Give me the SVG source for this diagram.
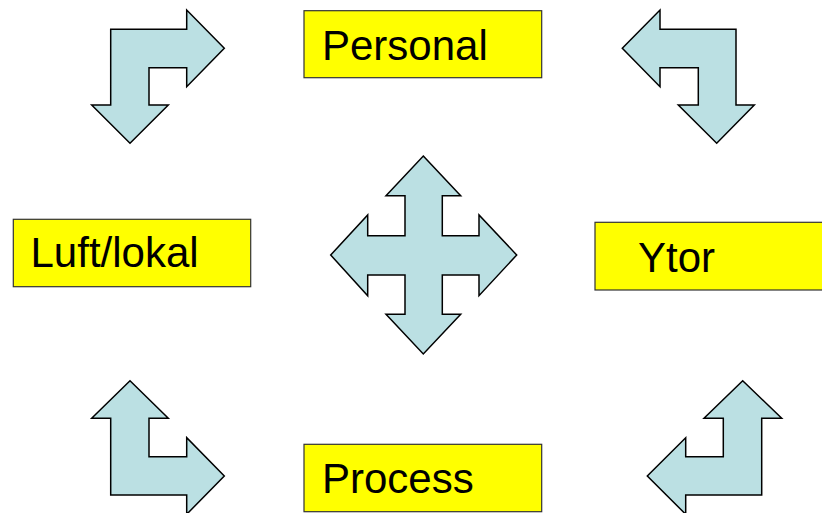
<svg xmlns="http://www.w3.org/2000/svg" width="822" height="513" viewBox="0 0 822 513">
<style>
.arrow{fill:#BBE0E3;stroke:#000;stroke-width:1.5;stroke-linejoin:miter}
.box{fill:#FFFF00;stroke:#333;stroke-width:1.2}
.lbl{font-family:"Liberation Sans",Arial,sans-serif;font-size:42px;fill:#000}
</style>
<rect width="822" height="513" fill="#fff"/>
<g id="connectors">
<polygon id="arrow-tl" class="arrow" points="110.7,29.3 186.7,29.3 186.7,10 224.3,48.3 186.7,86.7 186.7,67.7 149,67.7 149,105 168.3,105 130,143.3 91.7,105 110.7,105"/>
<polygon id="arrow-tr" class="arrow" points="736,29.3 660,29.3 660,10 622.3,48.3 660,86.7 660,67.7 698.3,67.7 698.3,105 678.3,105 716.7,143.3 754.3,105 736,105"/>
<polygon id="arrow-bl" class="arrow" points="110.7,495 186.7,495 186.7,514.3 224.3,476 186.7,437.7 186.7,456.7 149,456.7 149,418.3 168.3,418.3 130,380.7 91.7,418.3 110.7,418.3"/>
<polygon id="arrow-br" class="arrow" points="761.7,495 685.7,495 685.7,514.3 647.3,476 685.7,437.7 685.7,456.7 723.3,456.7 723.3,418.3 704,418.3 742.7,380.7 781.7,418.3 761.7,418.3"/>
<polygon id="arrow-center" class="arrow" points="423.3,156 460.7,195.7 442.3,195.7 442.3,235.7 479,235.7 479,215 516.7,255 479,295.7 479,275 442.3,275 442.3,314.3 460.7,314.3 423.3,354 386,314.3 405,314.3 405,275 367.7,275 367.7,295.7 330.7,255 367.7,215 367.7,235.7 405,235.7 405,195.7 386,195.7"/>
</g>
<g id="node-personal">
<rect class="box" x="304" y="10.7" width="237.7" height="67"/>
<text class="lbl" x="322" y="60">Personal</text>
</g>
<g id="node-luft">
<rect class="box" x="13.3" y="219.3" width="237.4" height="67.4"/>
<text class="lbl" x="30.5" y="267.3">Luft/lokal</text>
</g>
<g id="node-ytor">
<rect class="box" x="595" y="222.3" width="240" height="67.7"/>
<text class="lbl" x="638" y="271.7">Ytor</text>
</g>
<g id="node-process">
<rect class="box" x="304" y="444.3" width="237.7" height="67.4"/>
<text class="lbl" x="322" y="493.3">Process</text>
</g>
</svg>
